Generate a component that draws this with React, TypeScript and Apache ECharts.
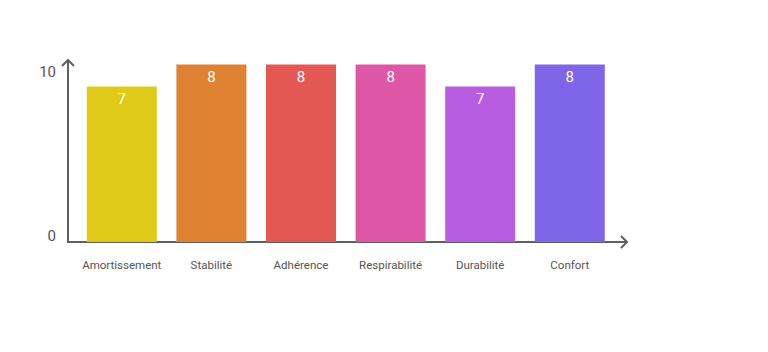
import React, { useEffect, useRef } from "react";
import * as echarts from "echarts";

const categories = ["Amortissement", "Stabilité", "Adhérence", "Respirabilité", "Durabilité", "Confort"];
const values = [7, 8, 8, 8, 7, 8];
const barColors = ["#DFCB17", "#DF8332", "#E35853", "#DE57A7", "#B85CE1", "#7F66E8"];
const yTickLabels = [0, 10];

const FONT = "Roboto, 'Noto Sans', sans-serif";
const AXIS_COLOR = "#5f5f5f";

export default function App() {
  const ref = useRef<HTMLDivElement>(null);
  useEffect(() => {
    if (!ref.current) return;
    const chart = echarts.init(ref.current, undefined, { renderer: "svg" });
    chart.setOption({
      animation: false,
      backgroundColor: "#ffffff",
      textStyle: { fontFamily: FONT },
      grid: [
        { left: 77, right: 153.4, top: 20, bottom: 110 },
        { left: 68, width: 10, top: 72, bottom: 116 },
      ],
      xAxis: [
        {
          type: "category",
          gridIndex: 0,
          data: categories,
          axisLine: { show: false },
          axisTick: { show: false },
          axisLabel: { color: "#555555", fontSize: 11.5, margin: 17, fontFamily: FONT, interval: 0 },
        },
        { type: "category", gridIndex: 1, show: false, data: [""] },
      ],
      yAxis: [
        { type: "value", gridIndex: 0, min: 0, max: 10, show: false },
        {
          type: "value",
          gridIndex: 1,
          min: yTickLabels[0],
          max: yTickLabels[yTickLabels.length - 1],
          interval: yTickLabels[yTickLabels.length - 1] - yTickLabels[0],
          axisLine: { show: false },
          axisTick: { show: false },
          splitLine: { show: false },
          axisLabel: { color: "#555555", fontSize: 15, margin: 12, fontFamily: FONT },
        },
      ],
      series: [
        {
          type: "bar",
          xAxisIndex: 0,
          yAxisIndex: 0,
          barWidth: 70,
          data: values.map((v, i) => ({ value: v, itemStyle: { color: barColors[i] } })),
          label: {
            show: true,
            position: "insideTop",
            distance: 5,
            color: "#ffffff",
            fontSize: 15,
            fontFamily: FONT,
          },
        },
      ],
      graphic: [
        { type: "line", shape: { x1: 68, y1: 243, x2: 68, y2: 60 }, style: { stroke: AXIS_COLOR, lineWidth: 2 } },
        { type: "polyline", shape: { points: [[62, 66], [68, 60], [74, 66]] }, style: { stroke: AXIS_COLOR, lineWidth: 2, fill: "none" } },
        { type: "line", shape: { x1: 67, y1: 242, x2: 627, y2: 242 }, style: { stroke: AXIS_COLOR, lineWidth: 2 } },
        { type: "polyline", shape: { points: [[621, 236], [627, 242], [621, 248]] }, style: { stroke: AXIS_COLOR, lineWidth: 2, fill: "none" } },
      ],
    });
    return () => chart.dispose();
  }, []);
  return <div ref={ref} style={{ width: 768, height: 352, position: "absolute", left: 0, top: 0 }} />;
}
